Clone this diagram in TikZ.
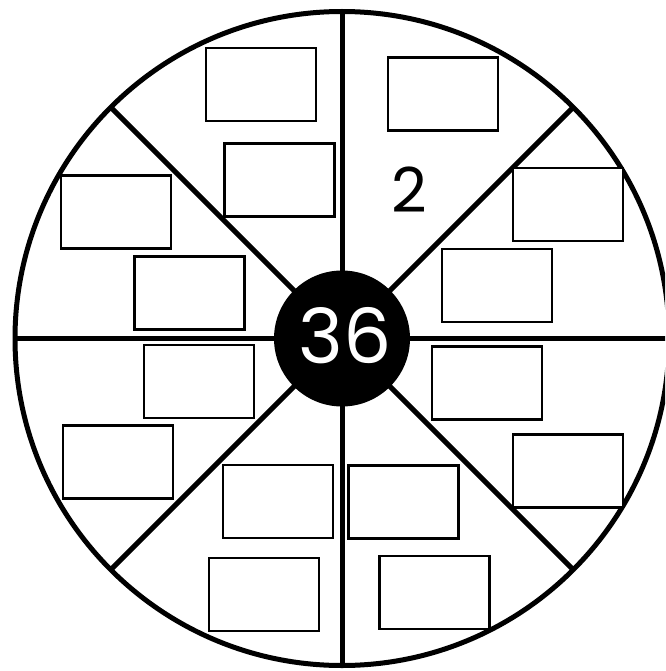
\documentclass[tikz,border=0pt]{standalone}
\usepackage{fontspec}
\usetikzlibrary{calc}
\newfontfamily\digitfont{Poppins}
\begin{document}
\begin{tikzpicture}[x=1pt,y=-1pt,
  cell/.style={draw=black,line width=2.6pt,minimum width=110pt,minimum height=73pt,inner sep=0pt,fill=white},
  spoke/.style={line width=5pt,black},
  rim/.style={line width=5pt,black}]
\useasboundingbox (0,0) rectangle (665,671);
\clip (0,0) rectangle (665,671);
\coordinate (c) at (342,338.5);
\draw[rim] (c) circle (327);
\foreach \a in {0,45,...,315}{
  \draw[spoke] (c) -- ($(c)+(\a:327)$);
}
\node[cell] (r1) at (261,84.5) {};
\node[cell] (r2) at (279.5,180) {};
\node[cell] (r3) at (443,94) {};
\node[cell] (r4) at (568,204.5) {};
\node[cell] (r5) at (497,285.5) {};
\node[cell] (r6) at (116,212) {};
\node[cell] (r7) at (189.5,293) {};
\node[cell] (r8) at (199,381.5) {};
\node[cell] (r9) at (487,383) {};
\node[cell] (r10) at (568,471) {};
\node[cell] (r11) at (118,462) {};
\node[cell] (r12) at (278,501.5) {};
\node[cell] (r13) at (403.5,502) {};
\node[cell] (r14) at (264,594.5) {};
\node[cell] (r15) at (434.5,592.5) {};
\node[circle,fill=black,minimum size=136pt,inner sep=0pt] (hub) at (c) {};
\node[text=white,font=\digitfont\fontsize{76}{76}\selectfont,inner sep=0pt] (num) at (345,336) {36};
\node[text=black,font=\digitfont\fontsize{62}{62}\selectfont,inner sep=0pt] (two) at (409,190) {2};
\end{tikzpicture}
\end{document}
